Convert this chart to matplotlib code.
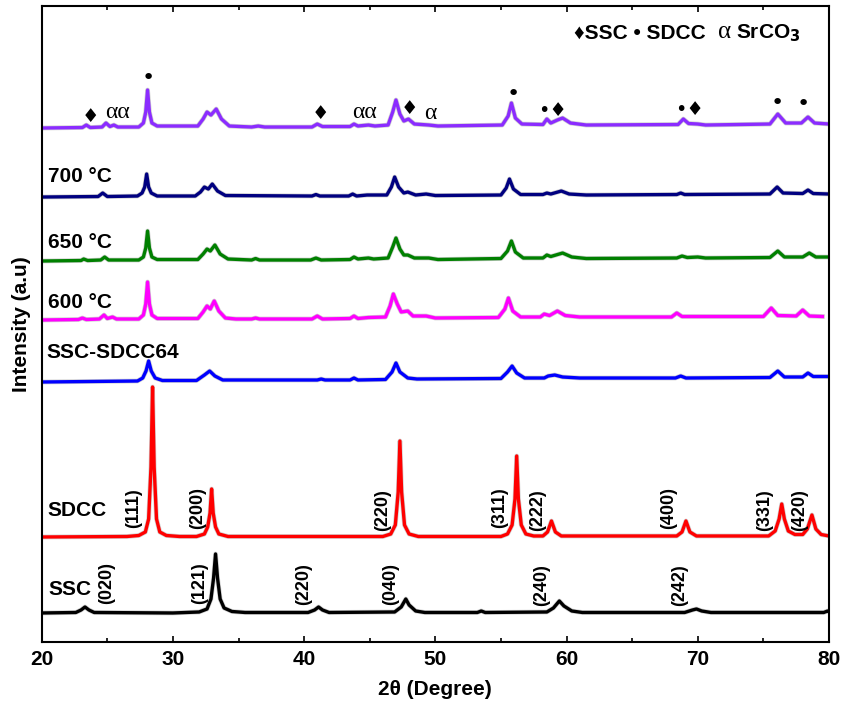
import numpy as np
import matplotlib.pyplot as plt
from matplotlib.ticker import MultipleLocator

plt.rcParams['font.family'] = ['Liberation Sans', 'DejaVu Sans']

# XRD patterns: (2theta, intensity above own baseline, a.u.)
ssc = [(20.0, 0), (22.6, 0.5), (23.0, 3), (23.3, 6), (23.6, 3), (24.0, 0.5), (30.0, 0),
       (32.0, 1), (32.6, 4), (32.9, 14), (33.1, 35), (33.25, 59), (33.4, 35), (33.6, 14),
       (33.9, 5), (34.5, 1.5), (35.5, 0.5), (40.3, 0.5), (40.8, 3), (41.1, 6), (41.4, 3),
       (41.9, 0.5), (46.9, 1), (47.4, 6), (47.75, 14), (48.0, 8), (48.5, 2), (49.2, 0.5),
       (53.2, 0.5), (53.5, 2), (53.8, 0.5), (58.5, 1), (59.0, 5), (59.45, 12), (59.8, 7),
       (60.4, 2), (61.2, 0.5), (69.0, 0.5), (69.6, 3), (69.9, 4), (70.3, 2), (71.0, 0.5),
       (79.6, 0.5), (79.9, 2), (80.0, 1.5)]

sdcc = [(20.0, 0), (26.5, 0.5), (27.4, 1.5), (27.9, 5), (28.15, 18), (28.33, 70),
        (28.45, 150), (28.57, 70), (28.75, 18), (29.0, 5), (29.5, 1.5), (30.5, 0.5),
        (31.8, 0.5), (32.4, 3), (32.65, 10), (32.83, 24), (32.95, 48), (33.07, 24),
        (33.25, 10), (33.5, 3), (34.2, 0.5), (46.0, 0.5), (46.6, 3), (46.95, 12),
        (47.17, 45), (47.3, 96), (47.43, 45), (47.65, 12), (48.0, 3), (48.7, 0.5),
        (55.0, 0.5), (55.5, 3), (55.85, 12), (56.07, 38), (56.2, 81), (56.33, 38),
        (56.55, 12), (56.9, 3), (57.5, 1), (58.2, 1), (58.55, 5), (58.85, 16), (59.15, 5),
        (59.6, 1), (68.4, 1), (68.8, 5), (69.1, 16), (69.4, 5), (69.9, 1), (75.4, 1),
        (75.9, 6), (76.2, 18), (76.4, 33), (76.6, 18), (76.9, 6), (77.4, 2.5), (78.0, 2.5),
        (78.35, 8), (78.7, 22), (79.0, 8), (79.4, 2.5), (80.0, 1)]

ssc_sdcc64 = [(20.0, 0), (27.3, 1), (27.7, 4), (27.95, 11), (28.15, 21), (28.35, 11),
              (28.65, 4), (29.2, 1.5), (31.8, 1.5), (32.4, 7), (32.8, 11), (33.2, 6),
              (33.8, 2), (41.0, 2), (41.3, 3), (41.6, 2), (43.5, 2), (43.8, 4), (44.1, 2),
              (46.2, 2.5), (46.7, 10), (47.0, 19), (47.3, 10), (47.9, 4), (48.6, 3),
              (55.0, 3.5), (55.5, 10), (55.85, 16), (56.2, 9), (56.8, 4), (58.3, 4),
              (58.6, 6), (59.1, 7), (59.7, 5), (61.0, 4), (68.3, 4), (68.7, 6), (69.1, 4),
              (75.5, 4.5), (76.1, 11), (76.6, 5), (78.0, 5), (78.4, 9), (78.8, 5.5),
              (80.0, 5.5)]

t600 = [(20.0, 0), (22.8, 0.5), (23.1, 2), (23.4, 0.5), (24.4, 1), (24.75, 5), (25.0, 1.5),
        (25.4, 3), (25.7, 1), (27.4, 1), (27.75, 5), (27.93, 16), (28.07, 38), (28.21, 16),
        (28.4, 5), (28.8, 1.5), (31.9, 1.5), (32.3, 8), (32.6, 14), (32.85, 11),
        (33.15, 19), (33.5, 9), (34.0, 2), (34.8, 1), (36.0, 1), (36.3, 2), (36.6, 1),
        (40.6, 1), (41.0, 4), (41.4, 1), (43.5, 1.5), (43.8, 4), (44.1, 1.5), (44.9, 2.5),
        (46.2, 3), (46.55, 14), (46.8, 26), (47.1, 16), (47.4, 8), (47.9, 9), (48.3, 4),
        (49.3, 4), (50.0, 2), (54.8, 2.5), (55.3, 11), (55.57, 22), (55.9, 9), (56.5, 3),
        (58.0, 3), (58.3, 6), (58.7, 4.5), (59.3, 9), (59.9, 4.5), (61.0, 3), (68.0, 3),
        (68.4, 7), (68.8, 3.5), (75.0, 3.5), (75.6, 12), (76.1, 4.5), (77.5, 4), (78.0, 10),
        (78.5, 4), (79.5, 3.5)]

t650 = [(20.0, 0), (23.0, 0.5), (23.2, 2), (23.5, 0.5), (24.5, 1), (24.8, 4), (25.1, 1),
        (27.4, 1), (27.75, 4), (27.93, 13), (28.07, 30), (28.21, 13), (28.4, 4), (28.8, 1.5),
        (31.9, 1.5), (32.3, 7), (32.6, 12), (32.85, 10), (33.2, 16), (33.6, 7), (34.2, 2),
        (36.0, 1), (36.3, 2.5), (36.6, 1), (40.5, 1), (40.9, 3), (41.3, 1), (43.5, 1.5),
        (43.8, 4), (44.1, 2), (44.9, 3), (45.3, 2), (46.4, 3), (46.75, 14), (47.0, 23),
        (47.3, 12), (47.6, 6), (47.9, 6), (48.4, 3), (49.5, 3), (50.2, 1.5), (55.0, 2.5),
        (55.5, 10), (55.8, 20), (56.1, 9), (56.7, 3), (58.2, 3), (58.5, 6), (58.8, 4.5),
        (59.7, 8), (60.4, 4), (61.5, 2.5), (68.4, 3), (68.8, 5), (69.2, 3.5), (70.0, 4),
        (70.6, 3), (75.5, 3.5), (76.1, 10), (76.6, 4), (78.0, 4), (78.5, 8), (79.0, 4),
        (80.0, 4)]

t700 = [(20.0, 0), (24.3, 0.5), (24.65, 4), (25.0, 0.5), (27.3, 1), (27.65, 4), (27.85, 10),
        (28.0, 23), (28.15, 10), (28.35, 4), (28.8, 1), (31.7, 1), (32.1, 5), (32.4, 10),
        (32.7, 8), (33.0, 13), (33.4, 6), (34.0, 1.5), (40.6, 1), (40.9, 2.5), (41.2, 1),
        (43.4, 1), (43.7, 3), (44.0, 1), (44.8, 2), (46.3, 2), (46.65, 10), (46.9, 20),
        (47.2, 10), (47.6, 4), (47.9, 5), (48.5, 2), (49.3, 3), (50.0, 1.5), (55.0, 2),
        (55.4, 9), (55.65, 18), (55.95, 8), (56.5, 2.5), (58.2, 2.5), (58.5, 4), (58.8, 3),
        (59.6, 6), (60.2, 3), (61.5, 2), (68.4, 2.5), (68.7, 4), (69.0, 2.5), (75.5, 3),
        (76.05, 10), (76.5, 4), (78.0, 3.5), (78.4, 7), (78.8, 3.5), (80.0, 3)]

t750 = [(20.0, 0), (23.1, 0.5), (23.4, 3), (23.7, 0.5), (24.6, 1), (24.9, 5), (25.2, 1.5),
        (25.5, 3), (25.8, 1), (27.4, 1), (27.75, 5), (27.93, 16), (28.07, 38), (28.21, 16),
        (28.4, 5), (28.8, 2), (31.9, 2), (32.3, 9), (32.6, 16), (32.9, 13), (33.3, 19),
        (33.7, 9), (34.3, 2), (36.0, 1), (36.5, 2), (37.0, 1), (40.6, 1), (41.0, 4),
        (41.4, 1.5), (43.5, 1.5), (43.8, 4), (44.1, 2), (44.9, 3), (45.4, 2), (46.4, 3),
        (46.75, 16), (47.0, 28), (47.3, 14), (47.6, 7), (47.95, 9), (48.4, 4), (49.5, 3),
        (50.2, 2), (55.1, 3), (55.55, 12), (55.8, 25), (56.1, 10), (56.6, 4), (58.2, 3.5),
        (58.5, 9), (58.8, 5), (59.3, 8), (59.7, 10), (60.3, 5), (61.5, 3), (68.5, 3.5),
        (68.9, 9), (69.3, 4.5), (70.0, 4), (70.6, 3), (75.5, 4), (76.1, 14), (76.7, 5),
        (77.9, 5), (78.4, 11), (78.9, 5), (80.0, 4)]

patterns = [ssc, sdcc, ssc_sdcc64, t600, t650, t700, t750]
offsets = [29, 105, 260, 322, 381, 445, 514]
colors = ['black', '#ff0000', '#0000ff', '#ff00ff', '#008000', '#000080', '#8b2cff']

# sample names (text, x, y)
sample_labels = [('SSC', 20.5, 52), ('SDCC', 20.45, 131), ('SSC-SDCC64', 20.35, 290),
                 ('600 °C', 20.5, 340), ('650 °C', 20.5, 400), ('700 °C', 20.5, 466)]

# Miller indices
hkl_sdcc = [('(111)', 27.0, 134), ('(200)', 31.9, 134), ('(220)', 46.0, 132),
            ('(311)', 54.9, 134), ('(222)', 57.8, 132), ('(400)', 67.75, 134),
            ('(331)', 75.1, 132), ('(420)', 77.8, 132)]
hkl_ssc = [('(020)', 24.95, 59), ('(121)', 32.0, 59), ('(220)', 39.95, 58),
           ('(040)', 46.6, 58), ('(240)', 58.1, 57), ('(242)', 68.6, 57)]

# phase markers above the top pattern
phase_marks = [('♦', 23.7, 526), ('αα', 25.75, 530), ('•', 28.15, 564), ('♦', 41.25, 529),
               ('αα', 44.6, 530), ('♦', 48.05, 534), ('α', 49.6, 529), ('•', 55.95, 548),
               ('•♦', 58.95, 532), ('•♦', 69.4, 533), ('•', 76.05, 539), ('•', 78.05, 538)]

fig = plt.figure(figsize=(8.44, 7.10), dpi=100)
ax = fig.add_axes([0.0494, 0.0958, 0.9328, 0.8957])

for pat, off, c in zip(patterns, offsets, colors):
    x, y = np.array(pat).T
    ax.plot(x, y + off, color='#999999', lw=3.4, alpha=0.45, solid_joinstyle='round')
    ax.plot(x, y + off, color=c, lw=2.4, solid_joinstyle='round')

for s, x, y in sample_labels:
    ax.text(x, y, s, fontsize=15, fontweight='bold', ha='left', va='center')

for s, x, y in hkl_sdcc + hkl_ssc:
    ax.text(x, y, s, fontsize=13, fontweight='bold', rotation=90, ha='center', va='center')

for s, x, y in phase_marks:
    if s.startswith('α'):
        ax.text(x, y, s, fontsize=17, family='Liberation Serif', ha='center', va='center')
    elif s == '•':
        ax.text(x, y, s, fontsize=16, family='DejaVu Sans', ha='center', va='center')
    else:
        ax.text(x, y, s, fontsize=14, family='DejaVu Sans', ha='center', va='center')

# key
ax.text(60.54, 609, '♦SSC • SDCC', fontsize=15, fontweight='bold', ha='left', va='center')
ax.text(72.05, 610, 'α', fontsize=18, family='Liberation Serif', ha='center', va='center')
ax.text(72.95, 609, r'SrCO$_\mathbf{3}$', fontsize=15, fontweight='bold', ha='left', va='center')

ax.set_xlim(20, 80)
ax.set_ylim(0, 636)
ax.xaxis.set_major_locator(MultipleLocator(10))
ax.xaxis.set_minor_locator(MultipleLocator(5))
ax.tick_params(axis='x', which='both', direction='in', top=True, labelsize=15, pad=6)
ax.tick_params(axis='x', which='major', length=4, width=1.2)
ax.tick_params(axis='x', which='minor', length=3, width=1.2)
for lab in ax.get_xticklabels():
    lab.set_fontweight('bold')
ax.set_yticks([])
for sp in ax.spines.values():
    sp.set_linewidth(1.5)

ax.set_xlabel('2θ (Degree)', fontsize=15, fontweight='bold', labelpad=8)
ax.set_ylabel('Intensity (a.u)', fontsize=15, fontweight='bold', labelpad=8)

fig.savefig('out.png', dpi=100)
